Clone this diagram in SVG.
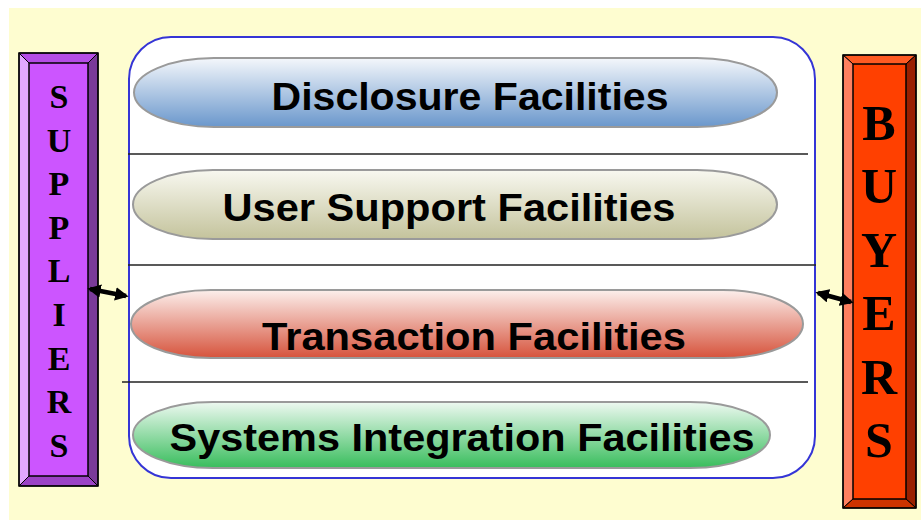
<svg xmlns="http://www.w3.org/2000/svg" width="921" height="522" viewBox="0 0 921 522">
<defs>
<style>
.pill{stroke:#9a9a9a;stroke-width:2}
.lbl{font-family:"Liberation Sans",Arial,sans-serif;font-weight:bold;font-size:38px;fill:#000;text-anchor:middle}
.sl{font-family:"Liberation Serif","Times New Roman",serif;font-weight:bold;font-size:34px;fill:#000;text-anchor:middle}
.bl{font-family:"Liberation Serif","Times New Roman",serif;font-weight:bold;font-size:50px;fill:#000;text-anchor:middle}
.sep{stroke:#222;stroke-width:1.5}
.edge{stroke:#000;stroke-width:1;stroke-linejoin:miter}
.conn{stroke:#000;stroke-width:4.5;fill:none}
</style>
<linearGradient id="gBlue" x1="0" y1="0" x2="0" y2="1"><stop offset="0" stop-color="#f4f7fb"/><stop offset="1" stop-color="#6a97cc"/></linearGradient>
<linearGradient id="gOlive" x1="0" y1="0" x2="0" y2="1"><stop offset="0" stop-color="#f8f8f0"/><stop offset="1" stop-color="#c4c39c"/></linearGradient>
<linearGradient id="gRed" x1="0" y1="0" x2="0" y2="1"><stop offset="0" stop-color="#fcefec"/><stop offset="1" stop-color="#d6533c"/></linearGradient>
<linearGradient id="gGreen" x1="0" y1="0" x2="0" y2="1"><stop offset="0" stop-color="#eef9f1"/><stop offset="1" stop-color="#38bd5c"/></linearGradient>
<marker id="ah" viewBox="0 0 10 10" refX="8" refY="5" markerWidth="3" markerHeight="3" orient="auto-start-reverse"><path d="M0,0 L10,5 L0,10 z" fill="#000"/></marker>
</defs>
<rect x="0" y="0" width="921" height="522" fill="#fff"/>
<rect x="9" y="8" width="912" height="512" fill="#fefdd0"/>

<g id="suppliers">
<rect x="19" y="53" width="79" height="433" fill="#cc55ff"/>
<polygon points="19,53 98,53 88,63 29,63" fill="#b54de6" class="edge"/>
<polygon points="19,53 29,63 29,476 19,486" fill="#e2a8ff" class="edge"/>
<polygon points="98,53 98,486 88,476 88,63" fill="#7a3a99" class="edge"/>
<polygon points="19,486 29,476 88,476 98,486" fill="#9b42c6" class="edge"/>
<rect x="19" y="53" width="79" height="433" fill="none" stroke="#000" stroke-width="1.5"/>
<rect x="29" y="63" width="59" height="413" fill="none" stroke="#000" stroke-width="1"/>
<text class="sl" x="59" y="108">S</text>
<text class="sl" x="59" y="152">U</text>
<text class="sl" x="59" y="195">P</text>
<text class="sl" x="59" y="239">P</text>
<text class="sl" x="59" y="282">L</text>
<text class="sl" x="59" y="326">I</text>
<text class="sl" x="59" y="370">E</text>
<text class="sl" x="59" y="413">R</text>
<text class="sl" x="59" y="457">S</text>
</g>

<g id="buyers">
<rect x="843" y="55" width="73" height="453" fill="#ff4000"/>
<polygon points="843,55 916,55 906,64 853,64" fill="#ff5a22" class="edge"/>
<polygon points="843,55 853,64 853,499 843,508" fill="#ff8060" class="edge"/>
<polygon points="916,55 916,508 906,499 906,64" fill="#992000" class="edge"/>
<polygon points="843,508 853,499 906,499 916,508" fill="#cc3300" class="edge"/>
<rect x="843" y="55" width="73" height="453" fill="none" stroke="#000" stroke-width="1.5"/>
<rect x="853" y="64" width="53" height="435" fill="none" stroke="#000" stroke-width="1"/>
<text class="bl" x="879" y="140">B</text>
<text class="bl" x="879" y="203">U</text>
<text class="bl" x="879" y="267">Y</text>
<text class="bl" x="879" y="330">E</text>
<text class="bl" x="879" y="394">R</text>
<text class="bl" x="879" y="457">S</text>
</g>

<g id="platform">
<rect x="129" y="37" width="686" height="441" rx="42" ry="42" fill="#fff" stroke="#3535d6" stroke-width="2"/>
<line class="sep" x1="128" y1="154" x2="808" y2="154"/>
<line class="sep" x1="128" y1="265" x2="816" y2="265"/>
<line class="sep" x1="122" y1="382" x2="808" y2="382"/>
</g>

<g id="disclosure">
<rect class="pill" x="134" y="58" width="643" height="69" rx="80" ry="34.5" fill="url(#gBlue)"/>
<text class="lbl" x="470" y="110" textLength="397" lengthAdjust="spacingAndGlyphs">Disclosure Facilities</text>
</g>
<g id="usersupport">
<rect class="pill" x="133" y="170" width="644" height="69" rx="80" ry="34.5" fill="url(#gOlive)"/>
<text class="lbl" x="449" y="221" textLength="453" lengthAdjust="spacingAndGlyphs">User Support Facilities</text>
</g>
<g id="transaction">
<rect class="pill" x="131" y="290" width="672" height="68" rx="80" ry="34" fill="url(#gRed)"/>
<text class="lbl" x="474" y="350" textLength="424" lengthAdjust="spacingAndGlyphs">Transaction Facilities</text>
</g>
<g id="systems">
<rect class="pill" x="133" y="402" width="637" height="66" rx="80" ry="33" fill="url(#gGreen)"/>
<text class="lbl" x="462" y="451" textLength="585" lengthAdjust="spacingAndGlyphs">Systems Integration Facilities</text>
</g>

<g id="connectors">
<line class="conn" x1="90" y1="289" x2="126" y2="296" marker-start="url(#ah)" marker-end="url(#ah)"/>
<line class="conn" x1="818" y1="293" x2="851" y2="302" marker-start="url(#ah)" marker-end="url(#ah)"/>
</g>
</svg>
